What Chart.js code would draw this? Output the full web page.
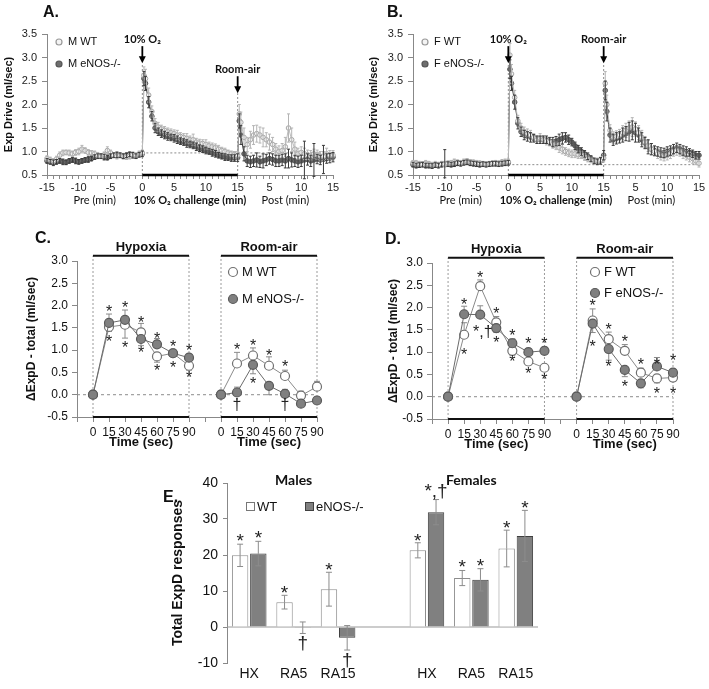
<!DOCTYPE html>
<html><head><meta charset="utf-8"><title>Exp Drive</title>
<script src="https://cdn.jsdelivr.net/npm/chart.js@4.4.1/dist/chart.umd.min.js"></script>
<style>
html,body{margin:0;padding:0;background:#fff;}
#wrap{position:relative;width:709px;height:689px;overflow:hidden;background:#fff;}
#wrap canvas{position:absolute;}
.pl{position:absolute;font:bold 16px "Liberation Sans",Arial,sans-serif;color:#111;line-height:16px;z-index:2;}
</style></head><body>
<div id="wrap">
 <canvas id="cA" width="345" height="215" style="left:0;top:0"></canvas>
 <canvas id="cB" width="354" height="215" style="left:355px;top:0"></canvas>
 <canvas id="cC" width="345" height="235" style="left:0;top:220px"></canvas>
 <canvas id="cD" width="354" height="235" style="left:355px;top:220px"></canvas>
 <canvas id="cE" width="400" height="229" style="left:150px;top:460px"></canvas>
 <div class="pl" style="left:43px;top:4px">A.</div>
 <div class="pl" style="left:387px;top:4px">B.</div>
 <div class="pl" style="left:35px;top:230px">C.</div>
 <div class="pl" style="left:385px;top:231px">D.</div>
 <div class="pl" style="left:163px;top:489px">E.</div>
</div>
<script>
// ================= DATA =================
// Panels A/B: time in minutes (post-period plotted after 15, labelled 0-15 again)
const timeMin = [
 -15,-14.5,-14,-13.5,-13,-12.5,-12,-11.5,-11,-10.5,-10,-9.5,-9,-8.5,-8,-7.5,-7,-6.5,-6,-5.5,-5,-4.5,-4,-3.5,-3,-2.5,-2,-1.5,-1,-0.5,0,
 0.25,0.5,1,1.5,2,2.5,3,3.5,4,4.5,5,5.5,6,6.5,7,7.5,8,8.5,9,9.5,10,10.5,11,11.5,12,12.5,13,13.5,14,14.5,15,
 15.25,15.5,16,16.5,17,17.5,18,18.5,19,19.5,20,20.5,21,21.5,22,22.5,23,23.5,24,24.5,25,25.5,26,26.5,27,27.5,28,28.5,29,29.5,30];

const A_WT = [
 0.85,0.82,0.80,0.84,0.92,0.97,0.98,0.97,0.95,0.98,1.00,1.05,1.02,0.98,0.97,0.95,0.92,0.90,0.93,1.02,0.97,0.92,0.90,0.92,0.90,0.88,0.90,0.93,0.92,0.95,0.97,
 2.62,2.55,2.20,1.85,1.60,1.52,1.48,1.45,1.42,1.40,1.38,1.35,1.32,1.30,1.28,1.25,1.25,1.20,1.18,1.17,1.15,1.12,1.10,1.08,1.05,1.02,1.00,0.97,0.95,0.93,0.92,
 1.80,1.62,1.30,1.15,1.25,1.35,1.38,1.35,1.30,1.25,1.20,1.15,1.05,1.00,1.02,1.10,1.50,1.25,1.05,0.95,0.98,0.95,0.93,0.92,0.95,0.93,0.90,0.90,0.95,0.92,0.92];
const A_WT_err = [
 .06,.06,.05,.06,.07,.06,.05,.06,.06,.06,.07,.08,.06,.06,.05,.06,.06,.05,.06,.08,.06,.05,.06,.05,.06,.05,.06,.06,.05,.06,.06,
 .18,.2,.15,.12,.1,.1,.08,.08,.08,.08,.08,.1,.08,.08,.1,.08,.12,.08,.08,.08,.1,.08,.08,.08,.08,.07,.07,.06,.06,.07,.08,
 .2,.22,.2,.15,.18,.2,.18,.17,.2,.15,.17,.15,.12,.12,.15,.2,.3,.25,.15,.12,.12,.12,.1,.1,.1,.1,.1,.1,.12,.1,.1];
const A_KO = [
 0.80,0.78,0.76,0.78,0.80,0.78,0.77,0.80,0.82,0.80,0.78,0.80,0.82,0.83,0.85,0.88,0.90,0.90,0.88,0.87,0.90,0.92,0.93,0.92,0.90,0.92,0.94,0.92,0.90,0.93,0.95,
 2.55,2.45,2.05,1.75,1.50,1.42,1.38,1.35,1.32,1.30,1.28,1.25,1.22,1.20,1.17,1.15,1.13,1.10,1.07,1.05,1.02,1.00,0.97,0.95,0.92,0.90,0.88,0.87,0.86,0.86,0.87,
 1.65,1.35,0.95,0.80,0.78,0.80,0.82,0.78,0.80,0.82,0.85,0.83,0.80,0.80,0.82,0.80,0.85,0.82,0.80,0.78,0.80,0.82,0.83,0.80,0.82,0.84,0.82,0.83,0.85,0.86,0.88];
const A_KO_err = [
 .05,.05,.06,.05,.05,.06,.05,.05,.05,.06,.05,.05,.05,.06,.05,.05,.05,.05,.06,.05,.05,.05,.06,.05,.05,.05,.05,.06,.05,.05,.06,
 .15,.15,.12,.1,.1,.08,.08,.08,.08,.07,.08,.08,.07,.07,.08,.07,.07,.08,.07,.07,.07,.06,.07,.07,.06,.06,.07,.06,.07,.07,.08,
 .15,.2,.15,.12,.12,.12,.15,.12,.15,.12,.12,.12,.12,.12,.12,.15,.2,.15,.12,.12,.12,.4,.12,.12,.35,.1,.1,.3,.1,.1,.1];

const B_WT = [
 0.76,0.75,0.74,0.73,0.75,0.74,0.72,0.73,0.72,0.74,0.73,0.75,0.76,0.78,0.77,0.76,0.78,0.80,0.78,0.77,0.76,0.75,0.74,0.73,0.74,0.75,0.76,0.75,0.77,0.78,0.78,
 3.05,2.65,2.15,1.65,1.50,1.42,1.38,1.35,1.30,1.25,1.28,1.25,1.22,1.20,1.15,1.12,1.08,1.05,1.00,0.97,0.95,0.95,0.93,0.92,0.88,0.85,0.82,0.80,0.80,0.82,0.86,
 2.45,2.00,1.45,1.30,1.32,1.35,1.40,1.45,1.50,1.52,1.48,1.40,1.30,1.20,1.12,1.05,1.00,0.95,0.92,0.90,0.92,0.95,1.00,1.02,1.00,0.95,0.92,0.88,0.85,0.80,0.75];
const B_WT_err = [
 .05,.06,.05,.05,.06,.05,.05,.06,.05,.05,.06,.05,.05,.06,.05,.05,.06,.05,.05,.05,.05,.05,.05,.05,.05,.05,.05,.05,.06,.06,.06,
 .25,.2,.15,.12,.1,.1,.1,.1,.08,.08,.1,.08,.08,.08,.08,.08,.1,.1,.08,.08,.08,.08,.08,.07,.07,.07,.06,.06,.06,.06,.08,
 .25,.2,.12,.12,.12,.12,.15,.15,.15,.2,.15,.15,.15,.12,.12,.12,.1,.1,.1,.1,.1,.1,.1,.1,.1,.1,.1,.1,.1,.08,.08];
const B_KO = [
 0.72,0.70,0.71,0.72,0.70,0.70,0.69,0.71,0.70,0.72,0.74,0.73,0.72,0.73,0.75,0.74,0.76,0.77,0.75,0.74,0.73,0.72,0.73,0.72,0.73,0.74,0.74,0.73,0.74,0.75,0.76,
 2.75,2.45,2.05,1.60,1.42,1.35,1.32,1.30,1.28,1.25,1.25,1.25,1.25,1.22,1.20,1.22,1.25,1.28,1.30,1.25,1.20,1.12,1.05,1.00,0.95,0.90,0.85,0.80,0.78,0.80,0.92,
 2.30,1.85,1.35,1.25,1.28,1.30,1.35,1.38,1.42,1.45,1.40,1.35,1.25,1.18,1.10,1.05,1.02,1.00,0.98,0.97,1.00,1.02,1.05,1.08,1.05,1.02,1.00,0.98,0.95,0.92,0.92];
const B_KO_err = [
 .05,.05,.05,.05,.05,.05,.05,.05,.05,.05,.3,.05,.05,.05,.05,.05,.05,.05,.05,.05,.05,.05,.05,.05,.05,.05,.05,.05,.05,.05,.05,
 .2,.15,.15,.12,.1,.1,.1,.1,.08,.08,.08,.08,.08,.08,.1,.1,.12,.12,.1,.1,.08,.08,.08,.08,.07,.07,.06,.06,.06,.07,.1,
 .2,.2,.15,.12,.12,.12,.15,.15,.2,.2,.2,.15,.15,.12,.15,.12,.1,.1,.1,.1,.1,.1,.1,.1,.1,.1,.1,.08,.08,.08,.08];

const A_baseline = 0.97, B_baseline = 0.72;

// Panels C/D: seconds; room-air phase drawn on the same axis after a gap
const timeSec = [0,15,30,45,60,75,90];
const raOffset = 120;
const C_hypWT = [0,1.52,1.57,1.40,0.86,0.93,0.65], C_hypWT_err = [0,-0.1,-0.3,0.2,-0.13,0.08,-0.1];
const C_hypKO = [0,1.61,1.68,1.25,1.13,0.93,0.83], C_hypKO_err = [0,0.2,0.22,-0.15,0.13,0.08,0.08];
const C_raWT  = [0,0.70,0.88,0.65,0.42,-0.02,0.18], C_raWT_err = [0,0.25,0.17,0.2,0.13,0.1,0.12];
const C_raKO  = [0,0.05,0.67,0.20,0.02,-0.20,-0.13], C_raKO_err = [0,0.12,-0.2,-0.2,0.1,-0.07,0.08];
const C_marks = [[15,1.93,'*'],[15,1.26,'*'],[30,2.04,'*'],[30,1.14,'*'],[45,1.70,'*'],[45,1.03,'*'],[60,1.33,'*'],[60,0.62,'*'],[75,1.15,'*'],[75,0.69,'*'],[90,1.07,'*'],[90,0.45,'*'],
 [135,1.08,'*'],[135,-0.25,'†'],[150,1.18,'*'],[150,0.33,'*'],[165,0.95,'*'],[180,0.70,'*'],[180,-0.25,'†']];

const D_hypWT = [0,1.39,2.48,1.67,1.03,0.79,0.65], D_hypWT_err = [0,0.27,0.14,0.13,-0.1,-0.08,-0.05];
const D_hypKO = [0,1.85,1.84,1.54,1.20,1.00,1.03], D_hypKO_err = [0,0.18,0.2,-0.1,0.1,0.08,0.08];
const D_raWT  = [0,1.71,1.29,1.03,0.54,0.41,0.43], D_raWT_err = [0,0.26,0.16,0.14,0.1,-0.1,-0.08];
const D_raKO  = [0,1.64,1.07,0.60,0.30,0.68,0.54], D_raKO_err = [0,-0.2,-0.25,-0.15,-0.1,0.2,0.08];
const D_marks = [[15,2.15,'*'],[15,1.01,'*'],[30,2.75,'*'],[32.5,1.44,'*,†'],[45,1.95,'*'],[45,1.30,'*'],[60,1.44,'*'],[60,0.86,'*'],[75,1.26,'*'],[75,0.59,'*'],[90,1.26,'*'],[90,0.45,'*'],
 [135,2.12,'*'],[135,1.19,'*'],[150,1.59,'*'],[150,0.75,'*'],[165,1.31,'*'],[165,0.31,'*'],[180,0.79,'*'],[195,0.79,'*'],[195,0.15,'*'],[210,0.88,'*'],[210,0.15,'*']];

// Panel E
const E_labels = ['HX','RA5','RA15','','HX','RA5','RA15'];
const E_WT = [19.9,6.9,10.5,null,21.3,13.6,21.8];
const E_WT_err = [3.1,1.9,4.7,null,2.1,2.1,5.1];
const E_KO = [20.4,-0.2,-3.0,null,31.9,13.1,25.3];
const E_KO_err = [3.4,1.6,3.4,null,3.5,3.1,7.1];
const E_marks = [[0,0,25.2,'*'],[0,1,26.0,'*'],[1,0,10.7,'*'],[1,1,-4.6,'†'],[2,0,17.0,'*'],[2,1,-9.3,'†'],
 [4,0,25.2,'*'],[4,1,37.6,'*,†'],[5,0,17.8,'*'],[5,1,18.3,'*'],[6,0,28.8,'*'],[6,1,34.4,'*']];

// ================= DRAWING =================
const F = '"Liberation Sans", Arial, sans-serif';
const FB = 'Lato, "Liberation Sans", Arial, sans-serif';
Chart.defaults.font.family = F;
Chart.defaults.color = '#222';

function seg(ctx,x1,y1,x2,y2){ctx.beginPath();ctx.moveTo(x1,y1);ctx.lineTo(x2,y2);ctx.stroke();}
function label(ctx,s,x,y,font,align){ctx.save();ctx.font=font;ctx.fillStyle='#111';ctx.textAlign=align||'center';ctx.textBaseline='middle';ctx.fillText(s,x,y);ctx.restore();}
function mark(ctx,s,x,y,size){
  ctx.save();ctx.font=size+'px '+F;ctx.fillStyle='#222';ctx.textAlign='center';
  if(s==='*'){ctx.textBaseline='alphabetic';ctx.fillText(s,x,y+size*0.55);}else{ctx.textBaseline='middle';ctx.fillText(s,x,y);}
  ctx.restore();
}
function dot(ctx,x,y,r,fill,stroke){ctx.save();ctx.beginPath();ctx.arc(x,y,r,0,Math.PI*2);ctx.fillStyle=fill;ctx.fill();ctx.strokeStyle=stroke;ctx.lineWidth=1.2;ctx.stroke();ctx.restore();}

function drawErr(chart){
  const ctx=chart.ctx, ys=chart.scales.y;
  chart.data.datasets.forEach((ds,di)=>{
    if(!ds.errors) return;
    const meta=chart.getDatasetMeta(di);
    ctx.save();ctx.strokeStyle=ds.errColor;ctx.lineWidth=1;
    meta.data.forEach((el,i)=>{
      const raw=ds.data[i]; const v=(raw!==null&&typeof raw==='object')?raw.y:raw;
      const e=ds.errors[i];
      if(v==null||!e) return;
      const x=el.x, y0=ys.getPixelForValue(v);
      const ends=ds.oneSided?[v+e]:[v+e,v-e];
      ctx.beginPath();
      ends.forEach(end=>{const y1=ys.getPixelForValue(end);ctx.moveTo(x,y0);ctx.lineTo(x,y1);ctx.moveTo(x-ds.cap,y1);ctx.lineTo(x+ds.cap,y1);});
      ctx.stroke();
    });
    ctx.restore();
  });
}
Chart.register({id:'errbars',
  beforeDatasetsDraw(chart,args,o){ if(o&&o.under) drawErr(chart); },
  afterDatasetsDraw(chart,args,o){ if(!(o&&o.under)) drawErr(chart); }
});

// ---------- A / B ----------
const subLabels = [{v:-7.5,text:'Pre (min)',bold:false},{v:7.5,text:'10% O\u2082 challenge (min)',bold:true},{v:22.5,text:'Post (min)',bold:false}];
function tsDecor(base, arrows, legend){
  return {id:'tsDecor',
    beforeDatasetsDraw(chart){
      const {ctx,chartArea:ca,scales:{x,y}}=chart;
      ctx.save();ctx.lineWidth=1;ctx.strokeStyle='#8c8c8c';ctx.setLineDash([2,2]);
      const yb=y.getPixelForValue(base);
      seg(ctx,x.getPixelForValue(0),yb,x.getPixelForValue(30),yb);
      arrows.forEach(a=>{const px=x.getPixelForValue(a.x);seg(ctx,px,ca.bottom,px,y.getPixelForValue(a.tip));});
      ctx.setLineDash([]);ctx.strokeStyle='#000';ctx.lineWidth=2.5;
      seg(ctx,x.getPixelForValue(0),ca.bottom,x.getPixelForValue(15),ca.bottom);
      ctx.restore();
    },
    afterDraw(chart){
      const {ctx,chartArea:ca,scales:{x,y}}=chart;
      arrows.forEach(a=>{
        const px=x.getPixelForValue(a.x), ty=y.getPixelForValue(a.tip);
        ctx.save();ctx.strokeStyle='#000';ctx.fillStyle='#000';ctx.lineWidth=1.8;
        seg(ctx,px,ty-17,px,ty-5);
        ctx.beginPath();ctx.moveTo(px-3.5,ty-7);ctx.lineTo(px+3.5,ty-7);ctx.lineTo(px,ty);ctx.closePath();ctx.fill();
        ctx.restore();
        label(ctx,a.text,px,ty-24,'bold 11px '+FB);
      });
      subLabels.forEach(s=>label(ctx,s.text,x.getPixelForValue(s.v),ca.bottom+25,(s.bold?'bold ':'')+'11px '+FB));
      legend.forEach((t,i)=>{
        const lx=ca.left+12, ly=ca.top+8+i*22;
        if(i===0) dot(ctx,lx,ly,3,'#f4f4f4','#9a9a9a'); else dot(ctx,lx,ly,3,'#6e6e6e','#555');
        label(ctx,t,lx+9,ly,'11px '+F,'left');
      });
    }};
}
function timeChart(id,g,wt,wtErr,ko,koErr,base,arrows,legend){
  const pts=arr=>timeMin.map((t,i)=>({x:t,y:arr[i]}));
  return new Chart(document.getElementById(id),{
    type:'line',
    data:{datasets:[
      {data:pts(wt),errors:wtErr,errColor:'#b4b4b4',cap:1.5,borderColor:'#bdbdbd',borderWidth:1,pointRadius:2.3,pointBackgroundColor:'#f2f2f2',pointBorderColor:'#a6a6a6',pointBorderWidth:1,clip:false},
      {data:pts(ko),errors:koErr,errColor:'#3a3a3a',cap:1.5,borderColor:'#2e2e2e',borderWidth:1,pointRadius:2.3,pointBackgroundColor:'#6e6e6e',pointBorderColor:'#555',pointBorderWidth:1,clip:false}
    ]},
    options:{responsive:false,animation:false,devicePixelRatio:1,
      layout:{padding:{left:g.padL,top:g.padT,right:g.padR,bottom:0}},
      plugins:{legend:{display:false},tooltip:{enabled:false},errbars:{under:false}},
      scales:{
        x:{type:'linear',min:-15,max:30,afterFit:s=>{s.height=g.xH;},
          ticks:{stepSize:1,autoSkip:false,maxRotation:0,maxTicksLimit:100,padding:2,font:{size:11},color:'#222',
            callback:v=>(v%5!==0)?'':String(v>15?v-15:v)},
          grid:{drawOnChartArea:false,tickLength:4,color:'#888'},border:{color:'#888'}},
        y:{min:0.5,max:3.5,afterFit:s=>{s.width=g.yW;},
          ticks:{stepSize:0.5,padding:5,font:{size:11},color:'#222',callback:v=>v.toFixed(1)},
          grid:{drawOnChartArea:false,tickLength:5,color:'#888'},border:{color:'#888'},
          title:{display:true,text:'Exp Drive (ml/sec)',font:{size:11,weight:'bold'},color:'#111',padding:{top:2,bottom:0}}}
      }},
    plugins:[tsDecor(base,arrows,legend)]
  });
}
timeChart('cA',{padL:0,padT:34,padR:12,yW:47,xH:40},A_WT,A_WT_err,A_KO,A_KO_err,A_baseline,
  [{x:0,tip:2.88,text:'10% O\u2082'},{x:15,tip:2.24,text:'Room-air'}],['M WT','M eNOS-/-']);
timeChart('cB',{padL:10,padT:34,padR:10,yW:48,xH:40},B_WT,B_WT_err,B_KO,B_KO_err,B_baseline,
  [{x:0,tip:2.88,text:'10% O\u2082'},{x:15,tip:2.88,text:'Room-air'}],['F WT','F eNOS-/-']);

// ---------- C / D ----------
const phases=[{from:0,to:90,name:'Hypoxia'},{from:raOffset,to:raOffset+90,name:'Room-air'}];
const boxTop=3.12;
function phaseDecor(legend,lg,marks){
  return {id:'phaseDecor',
    beforeDatasetsDraw(chart){
      const {ctx,chartArea:ca,scales:{x,y}}=chart;
      ctx.save();ctx.lineWidth=1;ctx.strokeStyle='#8c8c8c';ctx.setLineDash([3,3]);
      const y0=y.getPixelForValue(0);seg(ctx,ca.left,y0,ca.right,y0);
      ctx.setLineDash([2,2]);ctx.strokeStyle='#9a9a9a';
      const yt=y.getPixelForValue(boxTop);
      phases.forEach(p=>[p.from,p.to].forEach(v=>{const px=x.getPixelForValue(v);seg(ctx,px,ca.bottom,px,yt);}));
      ctx.setLineDash([]);ctx.strokeStyle='#111';ctx.lineWidth=2;
      phases.forEach(p=>{const a=x.getPixelForValue(p.from),b=x.getPixelForValue(p.to);seg(ctx,a,yt,b,yt);seg(ctx,a,ca.bottom,b,ca.bottom);});
      ctx.restore();
    },
    afterDraw(chart){
      const {ctx,chartArea:ca,scales:{x,y}}=chart;
      phases.forEach(p=>{
        const c=x.getPixelForValue((p.from+p.to)/2);
        label(ctx,p.name,c,y.getPixelForValue(3.3),'bold 13px '+F);
        label(ctx,'Time (sec)',c,ca.bottom+25,'bold 13px '+F);
      });
      legend.forEach((t,i)=>{
        const lx=ca.left+lg.dx, ly=ca.top+lg.dy+i*lg.gap;
        if(i===0) dot(ctx,lx,ly,4.5,'#fff','#707070'); else dot(ctx,lx,ly,4.5,'#808080','#5a5a5a');
        label(ctx,t,lx+9,ly,'13px '+F,'left');
      });
      marks.forEach(m=>mark(ctx,m[2],x.getPixelForValue(m[0]),y.getPixelForValue(m[1]),16));
    }};
}
function phaseChart(id,g,d,legend,lg,marks){
  const pts=(arr,off)=>timeSec.map((t,i)=>({x:t+off,y:arr[i]}));
  const wt={borderColor:'#8a8a8a',borderWidth:1,pointRadius:4.5,pointBackgroundColor:'#fff',pointBorderColor:'#707070',pointBorderWidth:1.2,errColor:'#8a8a8a',cap:3,oneSided:true,clip:false};
  const ko={borderColor:'#6a6a6a',borderWidth:1,pointRadius:4.5,pointBackgroundColor:'#808080',pointBorderColor:'#5a5a5a',pointBorderWidth:1.2,errColor:'#8a8a8a',cap:3,oneSided:true,clip:false};
  return new Chart(document.getElementById(id),{
    type:'line',
    data:{datasets:[
      Object.assign({data:pts(d.hypKO,0),errors:d.hypKOerr},ko),
      Object.assign({data:pts(d.raKO,raOffset),errors:d.raKOerr},ko),
      Object.assign({data:pts(d.hypWT,0),errors:d.hypWTerr},wt),
      Object.assign({data:pts(d.raWT,raOffset),errors:d.raWTerr},wt)
    ]},
    options:{responsive:false,animation:false,devicePixelRatio:1,
      layout:{padding:{left:g.padL,top:g.padT,right:g.padR,bottom:0}},
      plugins:{legend:{display:false},tooltip:{enabled:false},errbars:{under:true}},
      scales:{
        x:{type:'linear',min:-15,max:raOffset+90,afterFit:s=>{s.height=g.xH;},
          ticks:{stepSize:15,autoSkip:false,maxRotation:0,maxTicksLimit:100,padding:3,font:{size:12},color:'#111',
            callback:v=>(v<0||(v>90&&v<raOffset))?'':String(v>=raOffset?v-raOffset:v)},
          grid:{drawOnChartArea:false,tickLength:5,color:'#888'},border:{color:'#888'}},
        y:{min:-0.5,max:3.0,afterFit:s=>{s.width=g.yW;},
          ticks:{stepSize:0.5,padding:4,font:{size:12},color:'#111',callback:v=>v.toFixed(1)},
          grid:{drawOnChartArea:false,tickLength:5,color:'#888'},border:{color:'#888'},
          title:{display:true,text:'\u0394ExpD - total (ml/sec)',font:{size:12,weight:'bold'},color:'#111',padding:{top:4,bottom:0}}}
      }},
    plugins:[phaseDecor(legend,lg,marks)]
  });
}
phaseChart('cC',{padL:20,padT:41,padR:28,yW:57,xH:38},
  {hypWT:C_hypWT,hypWTerr:C_hypWT_err,hypKO:C_hypKO,hypKOerr:C_hypKO_err,raWT:C_raWT,raWTerr:C_raWT_err,raKO:C_raKO,raKOerr:C_raKO_err},
  ['M WT','M eNOS-/-'],{dx:156,dy:11,gap:27},C_marks);
phaseChart('cD',{padL:27,padT:43,padR:36,yW:50,xH:36},
  {hypWT:D_hypWT,hypWTerr:D_hypWT_err,hypKO:D_hypKO,hypKOerr:D_hypKO_err,raWT:D_raWT,raWTerr:D_raWT_err,raKO:D_raKO,raKOerr:D_raKO_err},
  ['F WT','F eNOS-/-'],{dx:163,dy:9,gap:21},D_marks);

// ---------- E ----------
const decorE={id:'decorE',
  beforeDatasetsDraw(chart){
    const {ctx,chartArea:ca,scales:{y}}=chart;
    ctx.save();ctx.strokeStyle='#999';ctx.lineWidth=1;
    const y0=y.getPixelForValue(0);seg(ctx,ca.left,y0,ca.right,y0);ctx.restore();
  },
  afterDraw(chart){
    const {ctx,chartArea:ca,scales:{x}}=chart;
    label(ctx,'Males',x.getPixelForValue(1),ca.top-3,'bold 14px '+FB);
    label(ctx,'Females',x.getPixelForValue(5),ca.top-3,'bold 14px '+FB);
    const ly=ca.top+24;
    ctx.save();ctx.lineWidth=1;
    ctx.fillStyle='#fff';ctx.strokeStyle='#777';ctx.fillRect(ca.left+19.5,ly-4.5,8,8);ctx.strokeRect(ca.left+19.5,ly-4.5,8,8);
    ctx.fillStyle='#808080';ctx.strokeStyle='#404040';ctx.fillRect(ca.left+78.5,ly-4.5,8,8);ctx.strokeRect(ca.left+78.5,ly-4.5,8,8);
    ctx.restore();
    label(ctx,'WT',ca.left+30,ly,'13px '+F,'left');
    label(ctx,'eNOS-/-',ca.left+89,ly,'13px '+F,'left');
    E_marks.forEach(m=>{
      const el=chart.getDatasetMeta(m[1]).data[m[0]];
      mark(ctx,m[3],el.x,chart.scales.y.getPixelForValue(m[2]),19);
    });
  }};
new Chart(document.getElementById('cE'),{
  type:'bar',
  data:{labels:E_labels,datasets:[
    {data:E_WT,errors:E_WT_err,errColor:'#8c8c8c',cap:3,backgroundColor:'#fff',borderColor:'#8c8c8c',borderWidth:1,categoryPercentage:0.82,barPercentage:0.9},
    {data:E_KO,errors:E_KO_err,errColor:'#8c8c8c',cap:3,backgroundColor:'#808080',borderColor:'#3f3f3f',borderWidth:1,categoryPercentage:0.82,barPercentage:0.9}
  ]},
  options:{responsive:false,animation:false,devicePixelRatio:1,
    layout:{padding:{left:16,top:23,right:12,bottom:0}},
    plugins:{legend:{display:false},tooltip:{enabled:false},errbars:{under:false}},
    scales:{
      x:{afterFit:s=>{s.height=26;},grid:{display:false,drawTicks:false},border:{display:false},
        ticks:{font:{size:14},color:'#111',padding:3,autoSkip:false,maxRotation:0}},
      y:{min:-10,max:40,afterFit:s=>{s.width=61;},
        ticks:{stepSize:10,font:{size:14},color:'#111',padding:5},
        grid:{drawOnChartArea:false,tickLength:4,color:'#888'},border:{color:'#888'},
        title:{display:true,text:'Total ExpD responses',font:{size:14,weight:'bold'},color:'#111',padding:{top:4,bottom:0}}}
    }},
  plugins:[decorE]
});
</script>
</body></html>
